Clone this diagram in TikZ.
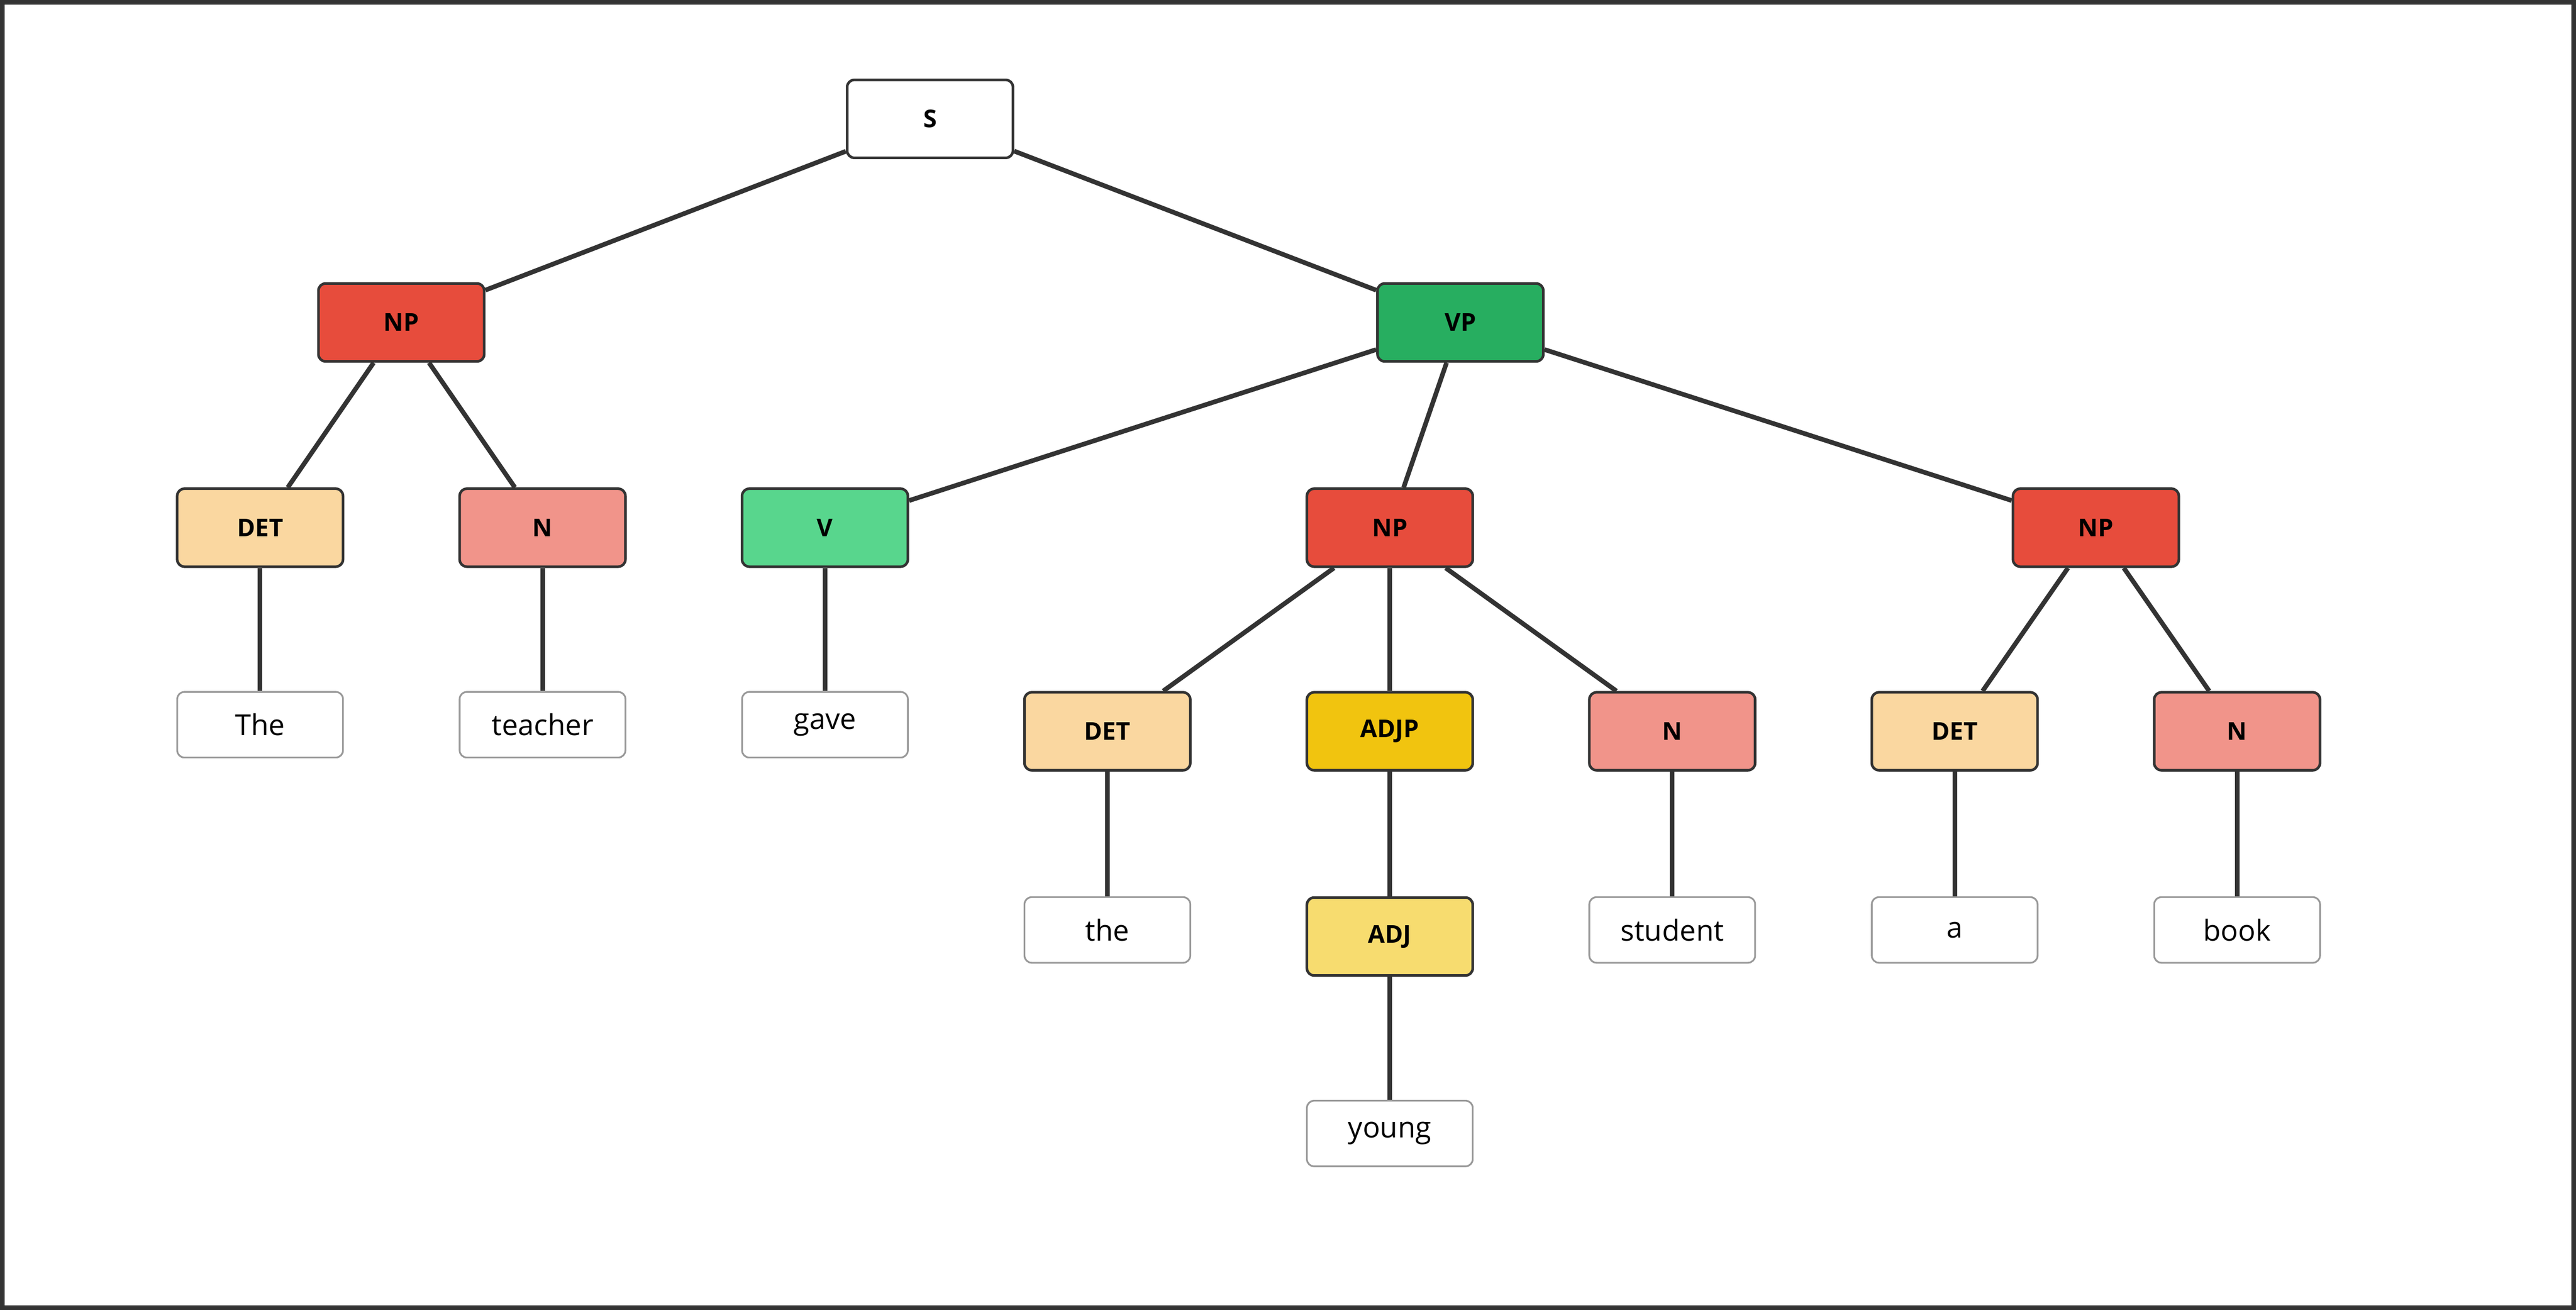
\documentclass[tikz,border=0pt]{standalone}
\usepackage{fontspec}
\setmainfont{Open Sans}
\begin{document}
\begin{tikzpicture}[x=0.02cm,y=-0.02cm,
 cat/.style={draw=black!80,line width=0.9pt,rounded corners=2.5pt,minimum width=2.02cm,minimum height=0.95cm,font=\fontsize{8.5}{10}\selectfont\bfseries,inner sep=0pt},
 leaf/.style={draw=black!40,line width=0.6pt,rounded corners=2.5pt,fill=white,minimum width=2.02cm,minimum height=0.8cm,font=\fontsize{10}{12}\selectfont,inner sep=0pt},
 edge/.style={draw=black!80,line width=1.6pt}]
\draw[black!80,line width=1.6pt,fill=white] (1,1) rectangle (1567,796);
\node[cat,fill=white] (S) at (566,72) {S};
\node[cat,fill={rgb,255:red,231;green,76;blue,60}] (NP1) at (244,196) {NP};
\node[cat,fill={rgb,255:red,39;green,174;blue,96}] (VP) at (889,196) {VP};
\node[cat,fill={rgb,255:red,250;green,215;blue,160}] (DET1) at (158,321) {DET};
\node[cat,fill={rgb,255:red,241;green,148;blue,138}] (N1) at (330,321) {N};
\node[cat,fill={rgb,255:red,88;green,214;blue,141}] (V) at (502,321) {V};
\node[cat,fill={rgb,255:red,231;green,76;blue,60}] (NP2) at (846,321) {NP};
\node[cat,fill={rgb,255:red,231;green,76;blue,60}] (NP3) at (1276,321) {NP};
\node[leaf] (The) at (158,441) {The};
\node[leaf] (teacher) at (330,441) {teacher};
\node[leaf] (gave) at (502,441) {gave};
\node[cat,fill={rgb,255:red,250;green,215;blue,160}] (DET2) at (674,445) {DET};
\node[cat,fill={rgb,255:red,241;green,196;blue,15}] (ADJP) at (846,445) {ADJP};
\node[cat,fill={rgb,255:red,241;green,148;blue,138}] (N2) at (1018,445) {N};
\node[cat,fill={rgb,255:red,250;green,215;blue,160}] (DET3) at (1190,445) {DET};
\node[cat,fill={rgb,255:red,241;green,148;blue,138}] (N3) at (1362,445) {N};
\node[leaf] (the) at (674,566) {the};
\node[cat,fill={rgb,255:red,247;green,220;blue,111}] (ADJ) at (846,570) {ADJ};
\node[leaf] (student) at (1018,566) {student};
\node[leaf] (a) at (1190,566) {a};
\node[leaf] (book) at (1362,566) {book};
\node[leaf] (young) at (846,690) {young};
\draw[edge] (S) -- (NP1);
\draw[edge] (S) -- (VP);
\draw[edge] (NP1) -- (DET1);
\draw[edge] (NP1) -- (N1);
\draw[edge] (VP) -- (V);
\draw[edge] (VP) -- (NP2);
\draw[edge] (VP) -- (NP3);
\draw[edge] (DET1) -- (The);
\draw[edge] (N1) -- (teacher);
\draw[edge] (V) -- (gave);
\draw[edge] (NP2) -- (DET2);
\draw[edge] (NP2) -- (ADJP);
\draw[edge] (NP2) -- (N2);
\draw[edge] (NP3) -- (DET3);
\draw[edge] (NP3) -- (N3);
\draw[edge] (DET2) -- (the);
\draw[edge] (ADJP) -- (ADJ);
\draw[edge] (ADJ) -- (young);
\draw[edge] (N2) -- (student);
\draw[edge] (DET3) -- (a);
\draw[edge] (N3) -- (book);
\end{tikzpicture}
\end{document}
